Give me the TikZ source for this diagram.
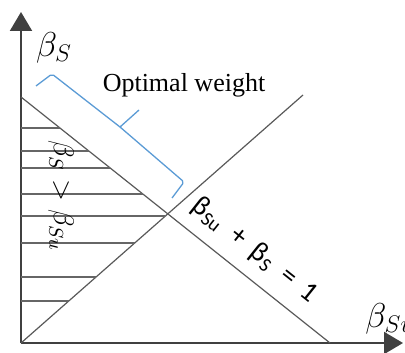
\documentclass[tikz,border=0pt]{standalone}
\usepackage{fontspec}
\setmainfont{Liberation Serif}
\newfontfamily\calfont{Carlito}
\usetikzlibrary{
	arrows.meta,
	positioning,
	calc
}
\definecolor{braceblue}{RGB}{91,155,213}

\begin{document}
\begin{tikzpicture}[
		x=0.5pt, y=0.5pt,
		axis/.style={draw=black!75, line width=1pt, -{Triangle[length=9.5pt,width=11pt]}},
		bound/.style={draw=black!65, line width=0.6pt},
		hatch/.style={draw=black!60, line width=0.55pt},
		bracket/.style={draw=braceblue, line width=0.65pt, rounded corners=1pt},
		axlabel/.style={inner sep=0pt, font=\fontsize{17}{19}\selectfont},
		eqlabel/.style={inner sep=1pt, font=\calfont\fontsize{14}{16}\selectfont},
		]
		\useasboundingbox (0,0) rectangle (405,352);
		
		% =========================
		% Axes
		% =========================
		\coordinate (O) at (21,9);
		\coordinate (ytip) at (21,340);
		\coordinate (xtip) at (403,9);
		\draw[axis] (O) -- (ytip);
		\draw[axis] (O) -- (xtip);
		\node[axlabel] (lblS) at (54,304) {$\beta_S$};
		\node[axlabel, anchor=west] (lblSu) at (365,33) {$\beta_{Su}$};
		
		% =========================
		% Boundary lines
		% =========================
		\coordinate (A) at (21,255);
		\coordinate (B) at (330,9);
		\coordinate (D) at (303,257);
		\draw[bound] (A) -- (B);
		\draw[bound] (O) -- (D);
		
		% Hatching of the region beta_S > beta_Su
		\foreach \h in {224,201,184,158,136,109,75,51}{
			\pgfmathsetmacro\xend{min(21+(255-\h)/0.796, 21+(\h-9)/0.879)}
			\draw[hatch] (21,\h) -- (\xend,\h);
		}
		\node[axlabel, rotate=-90, font=\fontsize{14}{16}\selectfont] (ineq) at (61,156) {$\beta_S>\beta_{Su}$};
		
		% =========================
		% Optimal weight bracket
		% =========================
		\coordinate (br1) at (36,266);
		\coordinate (br2) at (52,278);
		\coordinate (brm) at (120,225);
		\coordinate (brp) at (139,242);
		\coordinate (br3) at (184,170);
		\coordinate (br4) at (172,154);
		\draw[bracket] (br1) -- (br2) -- (brm) -- (br3) -- (br4);
		\draw[bracket] (brm) -- (brp);
		\node[font=\fontsize{13}{15}\selectfont] (opt) at (184,267) {Optimal weight};
		
		% Constraint label along the line
		\node[eqlabel, rotate=-38.5] (eq) at ($(A)!0.705!(B)+(16,20)$)
			{β\textsubscript{Su}\hspace{0.45em}+\hspace{0.45em}β\textsubscript{S}\hspace{0.45em}=\hspace{0.45em}1};
		
	\end{tikzpicture}
\end{document}
